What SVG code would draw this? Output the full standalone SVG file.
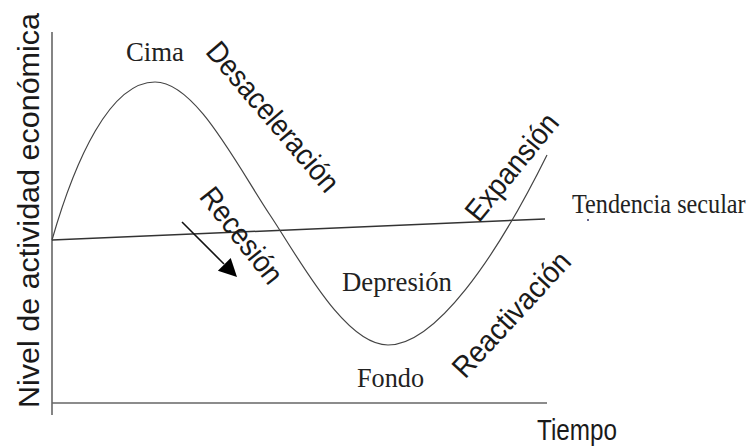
<svg xmlns="http://www.w3.org/2000/svg" width="754" height="448" viewBox="0 0 754 448">
<style>
.serif{font-family:"Liberation Serif","Times New Roman",serif;font-size:28px;fill:#222}
.sans{font-family:"Liberation Sans",Arial,sans-serif;font-size:30px;fill:#1a1a1a}
.axis{stroke:#666;stroke-width:1.6;fill:none}
.curve{stroke:#444;stroke-width:1.2;fill:none}
.trend{stroke:#333;stroke-width:1.5;fill:none}
</style>
<rect width="754" height="448" fill="#fff"/>
<g id="connectors">
<line class="axis" x1="52" y1="32" x2="52" y2="415"/>
<line class="axis" x1="52" y1="403" x2="547" y2="403"/>
<path class="trend" d="M52,240 L545,219"/>
<path class="curve" d="M52,240 C75,160 110,82 155,82 C195,82 235,162 270,215 C300,260 345,345 388,345 C435,345 495,260 547,155"/>
<line x1="182" y1="222" x2="224" y2="264" stroke="#111" stroke-width="1.6"/>
<polygon points="237,277 230.7,257.9 217.9,270.7" fill="#000"/>
</g>
<g id="ylabel"><text class="sans" font-size="32" text-anchor="middle" textLength="395" lengthAdjust="spacingAndGlyphs" transform="translate(39,210.5) rotate(-90)">Nivel de actividad económica</text></g>
<g id="xlabel"><text class="sans" x="577" y="440" text-anchor="middle" textLength="80" lengthAdjust="spacingAndGlyphs">Tiempo</text></g>
<g id="cima"><text class="serif" x="155" y="61" text-anchor="middle" textLength="58" lengthAdjust="spacingAndGlyphs">Cima</text></g>
<g id="tendencia"><text class="serif" font-size="29" transform="translate(572,213) scale(0.865,1)">Tendencia secular</text><circle cx="588" cy="220" r="1" fill="#336"/></g>
<g id="depresion"><text class="serif" x="397" y="291" text-anchor="middle" textLength="110" lengthAdjust="spacingAndGlyphs">Depresión</text></g>
<g id="fondo"><text class="serif" x="390.5" y="387" text-anchor="middle" textLength="67" lengthAdjust="spacingAndGlyphs">Fondo</text></g>
<g id="desaceleracion"><text class="sans" text-anchor="middle" textLength="187" lengthAdjust="spacingAndGlyphs" transform="translate(265.2,123.3) rotate(49.5)">Desaceleración</text></g>
<g id="recesion"><text class="sans" text-anchor="middle" textLength="114" lengthAdjust="spacingAndGlyphs" transform="translate(233.7,241.8) rotate(51.7)">Recesión</text></g>
<g id="expansion"><text class="sans" text-anchor="middle" textLength="129" lengthAdjust="spacingAndGlyphs" transform="translate(519.7,173.4) rotate(-50.8)">Expansión</text></g>
<g id="reactivacion"><text class="sans" text-anchor="middle" textLength="159" lengthAdjust="spacingAndGlyphs" transform="translate(518.8,321.3) rotate(-47.3)">Reactivación</text></g>
</svg>
